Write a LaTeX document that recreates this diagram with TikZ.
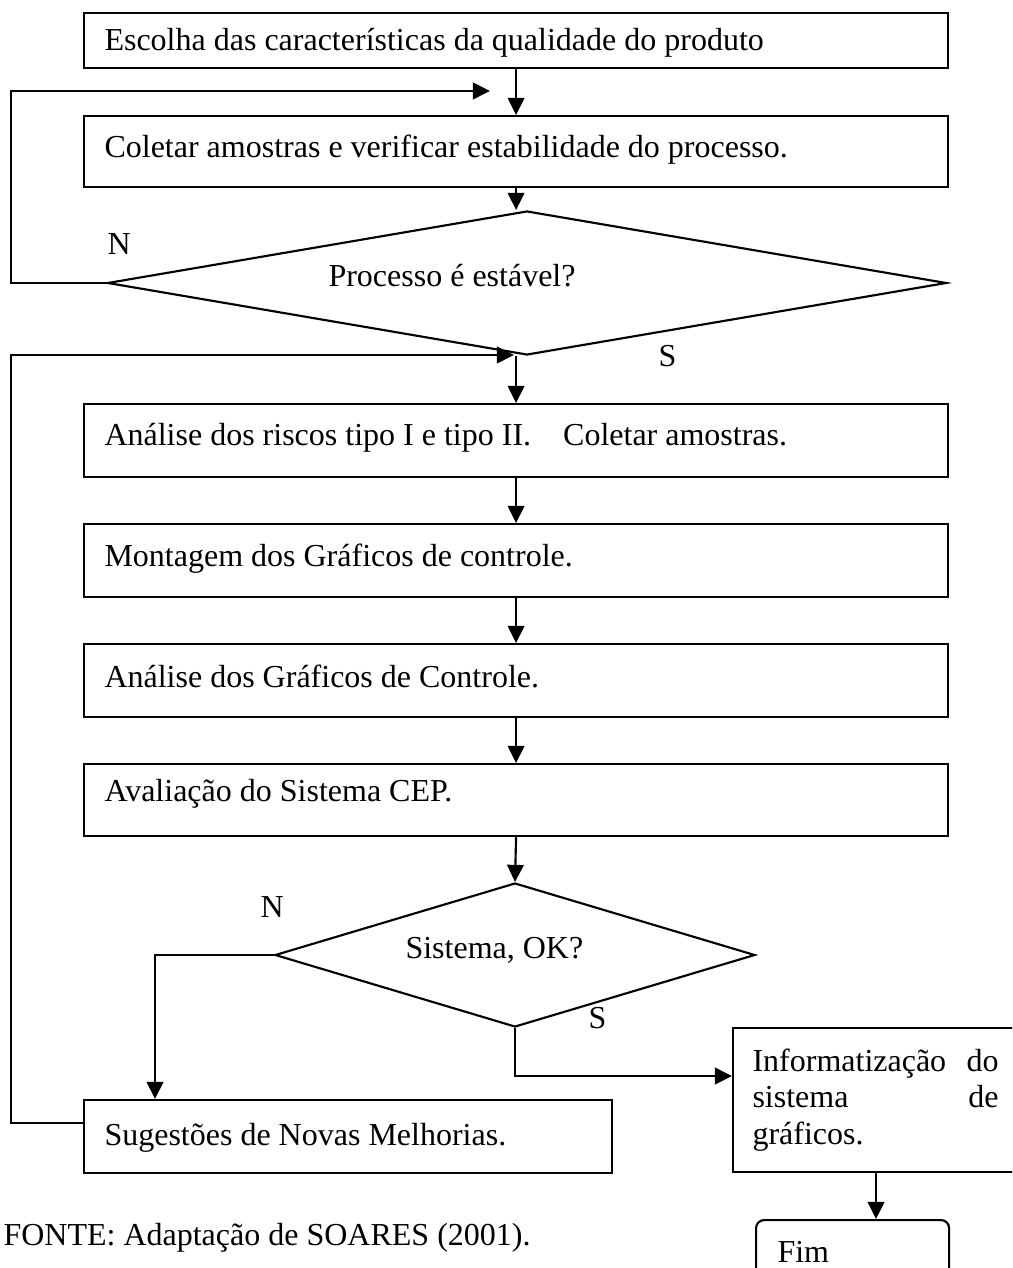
\documentclass[tikz,border=0pt]{standalone}
\usepackage{fontspec}
\setmainfont{Liberation Serif}
\usetikzlibrary{shapes.geometric,arrows.meta}

% one drawing unit = one pixel of the 1012 x 1268 sheet
\newcommand\pxu{0.375pt}

\tikzset{
  box/.style={draw, line width=0.8pt, rectangle, inner sep=0pt, anchor=north west},
  decision/.style={draw, line width=0.8pt, diamond, inner sep=0pt},
  roundbox/.style={box, rounded corners=3pt},
  txt/.style={inner sep=0pt, anchor=base west},
  arr/.style={line width=0.8pt, -{Triangle[length=6.4pt,width=6.2pt]}},
}

\begin{document}
\begin{tikzpicture}[x=\pxu, y=-\pxu, font=\fontsize{12}{13.7}\selectfont]
  \fill[white] (0,0) rectangle (1012,1268);
  \clip (0,0) rectangle (1012,1268);

  % process boxes
  \node[box, minimum width=864*\pxu, minimum height=55*\pxu] (b1) at (83,12) {};
  \node[txt] (t1) at (104,51) {Escolha das características da qualidade do produto};

  \node[box, minimum width=864*\pxu, minimum height=71*\pxu] (b2) at (83,115) {};
  \node[txt] (t2) at (104,158) {Coletar amostras e verificar estabilidade do processo.};

  \node[decision, minimum width=839*\pxu, minimum height=144*\pxu] (d1) at (527,283) {};
  \node[txt] (t3) at (328,287) {Processo é estável?};
  \node[txt] (n1) at (107,255) {N};
  \node[txt] (s1) at (658,367) {S};

  \node[box, minimum width=864*\pxu, minimum height=73*\pxu] (b3) at (83,403) {};
  \node[txt] (t4) at (104,446) {Análise dos riscos tipo I e tipo II.\hspace{0.75em} Coletar amostras.};

  \node[box, minimum width=864*\pxu, minimum height=73*\pxu] (b4) at (83,523) {};
  \node[txt] (t5) at (104,567) {Montagem dos Gráficos de controle.};

  \node[box, minimum width=864*\pxu, minimum height=73*\pxu] (b5) at (83,643) {};
  \node[txt] (t6) at (104,687) {Análise dos Gráficos de Controle.};

  \node[box, minimum width=864*\pxu, minimum height=72*\pxu] (b6) at (83,763) {};
  \node[txt] (t7) at (104,801) {Avaliação do Sistema CEP.};

  \node[decision, minimum width=480*\pxu, minimum height=144*\pxu] (d2) at (515,955) {};
  \node[txt] (t8) at (405,958) {Sistema, OK?};
  \node[txt] (n2) at (260,917) {N};
  \node[txt] (s2) at (588,1028) {S};

  \node[box, minimum width=528*\pxu, minimum height=73*\pxu] (sug) at (83,1099) {};
  \node[txt] (t9) at (104,1145) {Sugestões de Novas Melhorias.};

  \node[box, minimum width=300*\pxu, minimum height=144*\pxu] (info) at (732,1027) {};
  \node[txt] (t10) at (752,1071) {\vtop{%
      \hbox to 92.25pt{Informatização\hfill do}%
      \hbox to 92.25pt{sistema\hfill de}%
      \hbox{gráficos.}}};

  \node[roundbox, minimum width=193*\pxu, minimum height=80*\pxu] (fim) at (755,1219) {};
  \node[txt] (t11) at (777,1262) {Fim};

  \node[txt] (src) at (3,1245) {FONTE: Adaptação de SOARES (2001).};

  % helper points for the routed connectors
  \coordinate (l1) at (490,91);
  \coordinate (xl1) at (11,91);
  \coordinate (l2) at (514,355);
  \coordinate (xl2) at (11,355);
  \coordinate (ys2) at (0,1123);
  \coordinate (xs) at (155,0);
  \coordinate (ys) at (0,1076);
  \coordinate (xf) at (876,0);

  % main flow
  \draw[arr] (b1.south) -- (b2.north);
  \draw[arr] (b2.south) -- (b2.south |- d1.north);
  \draw[arr] (d1.south -| b3.north) -- (b3.north);
  \draw[arr] (b3.south) -- (b4.north);
  \draw[arr] (b4.south) -- (b5.north);
  \draw[arr] (b5.south) -- (b6.north);
  \draw[arr] (b6.south) -- (d2.north);
  \draw[arr] (d2.west) -| (xs |- sug.north);
  \draw[arr] (d2.south) |- (info.west |- ys);
  \draw[arr] (info.south -| xf) -- (fim.north -| xf);

  % feedback loops
  \draw[arr] (d1.west) -| (xl1) -- (l1);
  \draw[arr] (sug.west |- ys2) -| (xl2) -- (l2);
\end{tikzpicture}
\end{document}
